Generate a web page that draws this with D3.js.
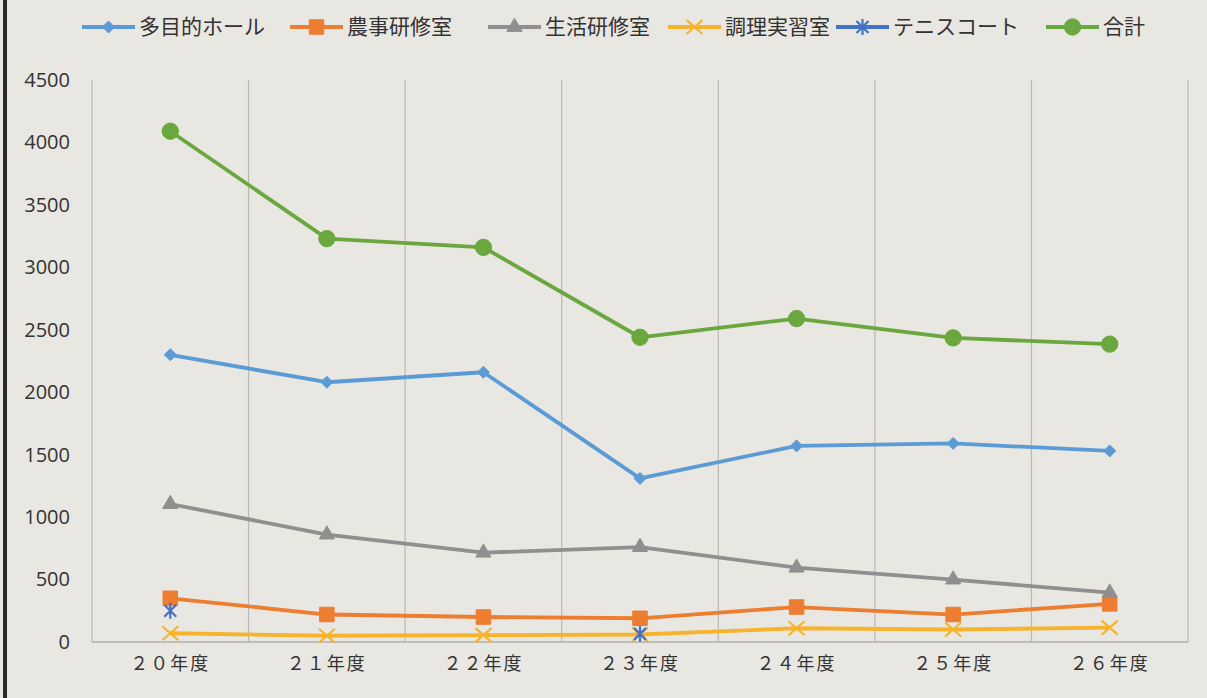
<!DOCTYPE html>
<html>
<head>
<meta charset="utf-8">
<script src="https://cdn.jsdelivr.net/npm/d3@7"></script>
<style>
  body { margin: 0; background: #e9e7e2; }
  text { font-family: "Noto Sans CJK JP", "Noto Sans", sans-serif; fill: #333; }
</style>
</head>
<body>
<script>
// 年度
var categories = ["２０年度", "２１年度", "２２年度", "２３年度", "２４年度", "２５年度", "２６年度"];
var yTicks = [0, 500, 1000, 1500, 2000, 2500, 3000, 3500, 4000, 4500];

var hall    = [2300, 2080, 2160, 1310, 1570, 1590, 1530];
var nouji   = [350, 220, 200, 190, 280, 220, 305];
var seikatsu= [1105, 860, 715, 760, 595, 500, 395];
var chouri  = [70, 50, 55, 60, 110, 100, 115];
var tennis  = [250, null, null, 65, null, null, null];
var goukei  = [4090, 3230, 3160, 2440, 2590, 2435, 2385];

var seriesNames = ["多目的ホール", "農事研修室", "生活研修室", "調理実習室", "テニスコート", "合計"];

var series = [
  {name: seriesNames[0], values: hall,     color: "#5b9bd5", marker: "diamond"},
  {name: seriesNames[1], values: nouji,    color: "#ed7d31", marker: "square"},
  {name: seriesNames[2], values: seikatsu, color: "#8f8f8f", marker: "triangle"},
  {name: seriesNames[3], values: chouri,   color: "#f7b32b", marker: "x"},
  {name: seriesNames[4], values: tennis,   color: "#4472c4", marker: "star"},
  {name: seriesNames[5], values: goukei,   color: "#6aa83f", marker: "circle"}
];

var W = 1207, H = 698;
var margin = {top: 80, right: 19, bottom: 56, left: 92};

var svg = d3.select("body").append("svg")
    .attr("width", W)
    .attr("height", H);

svg.append("rect").attr("width", W).attr("height", H).attr("fill", "#e9e7e2");
// dark left edge
svg.append("rect").attr("x", 3).attr("y", 0).attr("width", 4).attr("height", H).attr("fill", "#2a2a2a");

var x = d3.scaleBand().domain(categories).range([margin.left, W - margin.right]);
var y = d3.scaleLinear().domain([0, 4500]).range([H - margin.bottom, margin.top]);

// vertical gridlines at category boundaries
var bounds = categories.map(function(c) { return x(c); }).concat([x.range()[1]]);
svg.append("g").selectAll("line")
    .data(bounds)
    .enter().append("line")
    .attr("x1", function(d) { return d; })
    .attr("x2", function(d) { return d; })
    .attr("y1", y(4500))
    .attr("y2", y(0))
    .attr("stroke", "#b9b8b4")
    .attr("stroke-width", 1.2);

// bottom axis line
svg.append("line")
    .attr("x1", x.range()[0]).attr("x2", x.range()[1])
    .attr("y1", y(0)).attr("y2", y(0))
    .attr("stroke", "#b0afab").attr("stroke-width", 1.5);

// y labels
var yAxis = d3.axisLeft(y).tickValues(yTicks).tickFormat(d3.format("d")).tickSize(0).tickPadding(22);
var gy = svg.append("g").attr("transform", "translate(" + margin.left + ",0)").call(yAxis);
gy.select(".domain").remove();
gy.selectAll("text").style("font-size", "20px").style("font-family", "'Open Sans', 'Noto Sans', sans-serif").attr("fill", "#333");

// x labels
var xAxis = d3.axisBottom(x).tickSize(0).tickPadding(15);
var gx = svg.append("g").attr("transform", "translate(0," + y(0) + ")").call(xAxis);
gx.select(".domain").remove();
gx.selectAll("text").style("font-size", "18px").attr("fill", "#333").style("letter-spacing", "2px");

function markerPath(type) {
  if (type == "diamond") return "M0,-6L6,0L0,6L-6,0Z";
  if (type == "square") return d3.symbol().type(d3.symbolSquare).size(210)();
  if (type == "triangle") return d3.symbol().type(d3.symbolTriangle).size(100)();
  if (type == "circle") return d3.symbol().type(d3.symbolCircle).size(210)();
  if (type == "x") return "M-8,-7L8,7M-8,7L8,-7";
  if (type == "star") return "M-6,-6L6,6M-6,6L6,-6M0,-8L0,8";
}

function drawMarker(g, s, cx, cy) {
  var p = g.append("path")
      .attr("d", markerPath(s.marker))
      .attr("transform", "translate(" + cx + "," + cy + ")");
  if (s.marker == "x" || s.marker == "star") {
    p.attr("fill", "none").attr("stroke", s.color).attr("stroke-width", 2.2);
  } else {
    p.attr("fill", s.color).attr("stroke", s.color).attr("stroke-width", 1);
  }
}

var line = d3.line()
    .defined(function(d) { return d != null; })
    .x(function(d, i) { return x(categories[i]) + x.bandwidth() / 2; })
    .y(function(d) { return y(d); });

series.forEach(function(s) {
  var g = svg.append("g");
  g.append("path")
      .datum(s.values)
      .attr("fill", "none")
      .attr("stroke", s.color)
      .attr("stroke-width", 3.8)
      .attr("stroke-linejoin", "round")
      .attr("d", line);
  s.values.forEach(function(v, i) {
    if (v == null) return;
    drawMarker(g, s, x(categories[i]) + x.bandwidth() / 2, y(v));
  });
});

// legend
var legendX = [82, 290, 488, 668, 836, 1046];
var leg = svg.append("g");
series.forEach(function(s, i) {
  var g = leg.append("g").attr("transform", "translate(" + legendX[i] + ",27)");
  g.append("line")
      .attr("x1", 0).attr("x2", 53)
      .attr("y1", 0).attr("y2", 0)
      .attr("stroke", s.color).attr("stroke-width", 3.8);
  drawMarker(g, s, 26.5, 0);
  g.append("text")
      .attr("x", 57)
      .attr("y", 0)
      .attr("dy", "0.35em")
      .style("font-size", "21px")
      .text(s.name);
});
</script>
</body>
</html>
